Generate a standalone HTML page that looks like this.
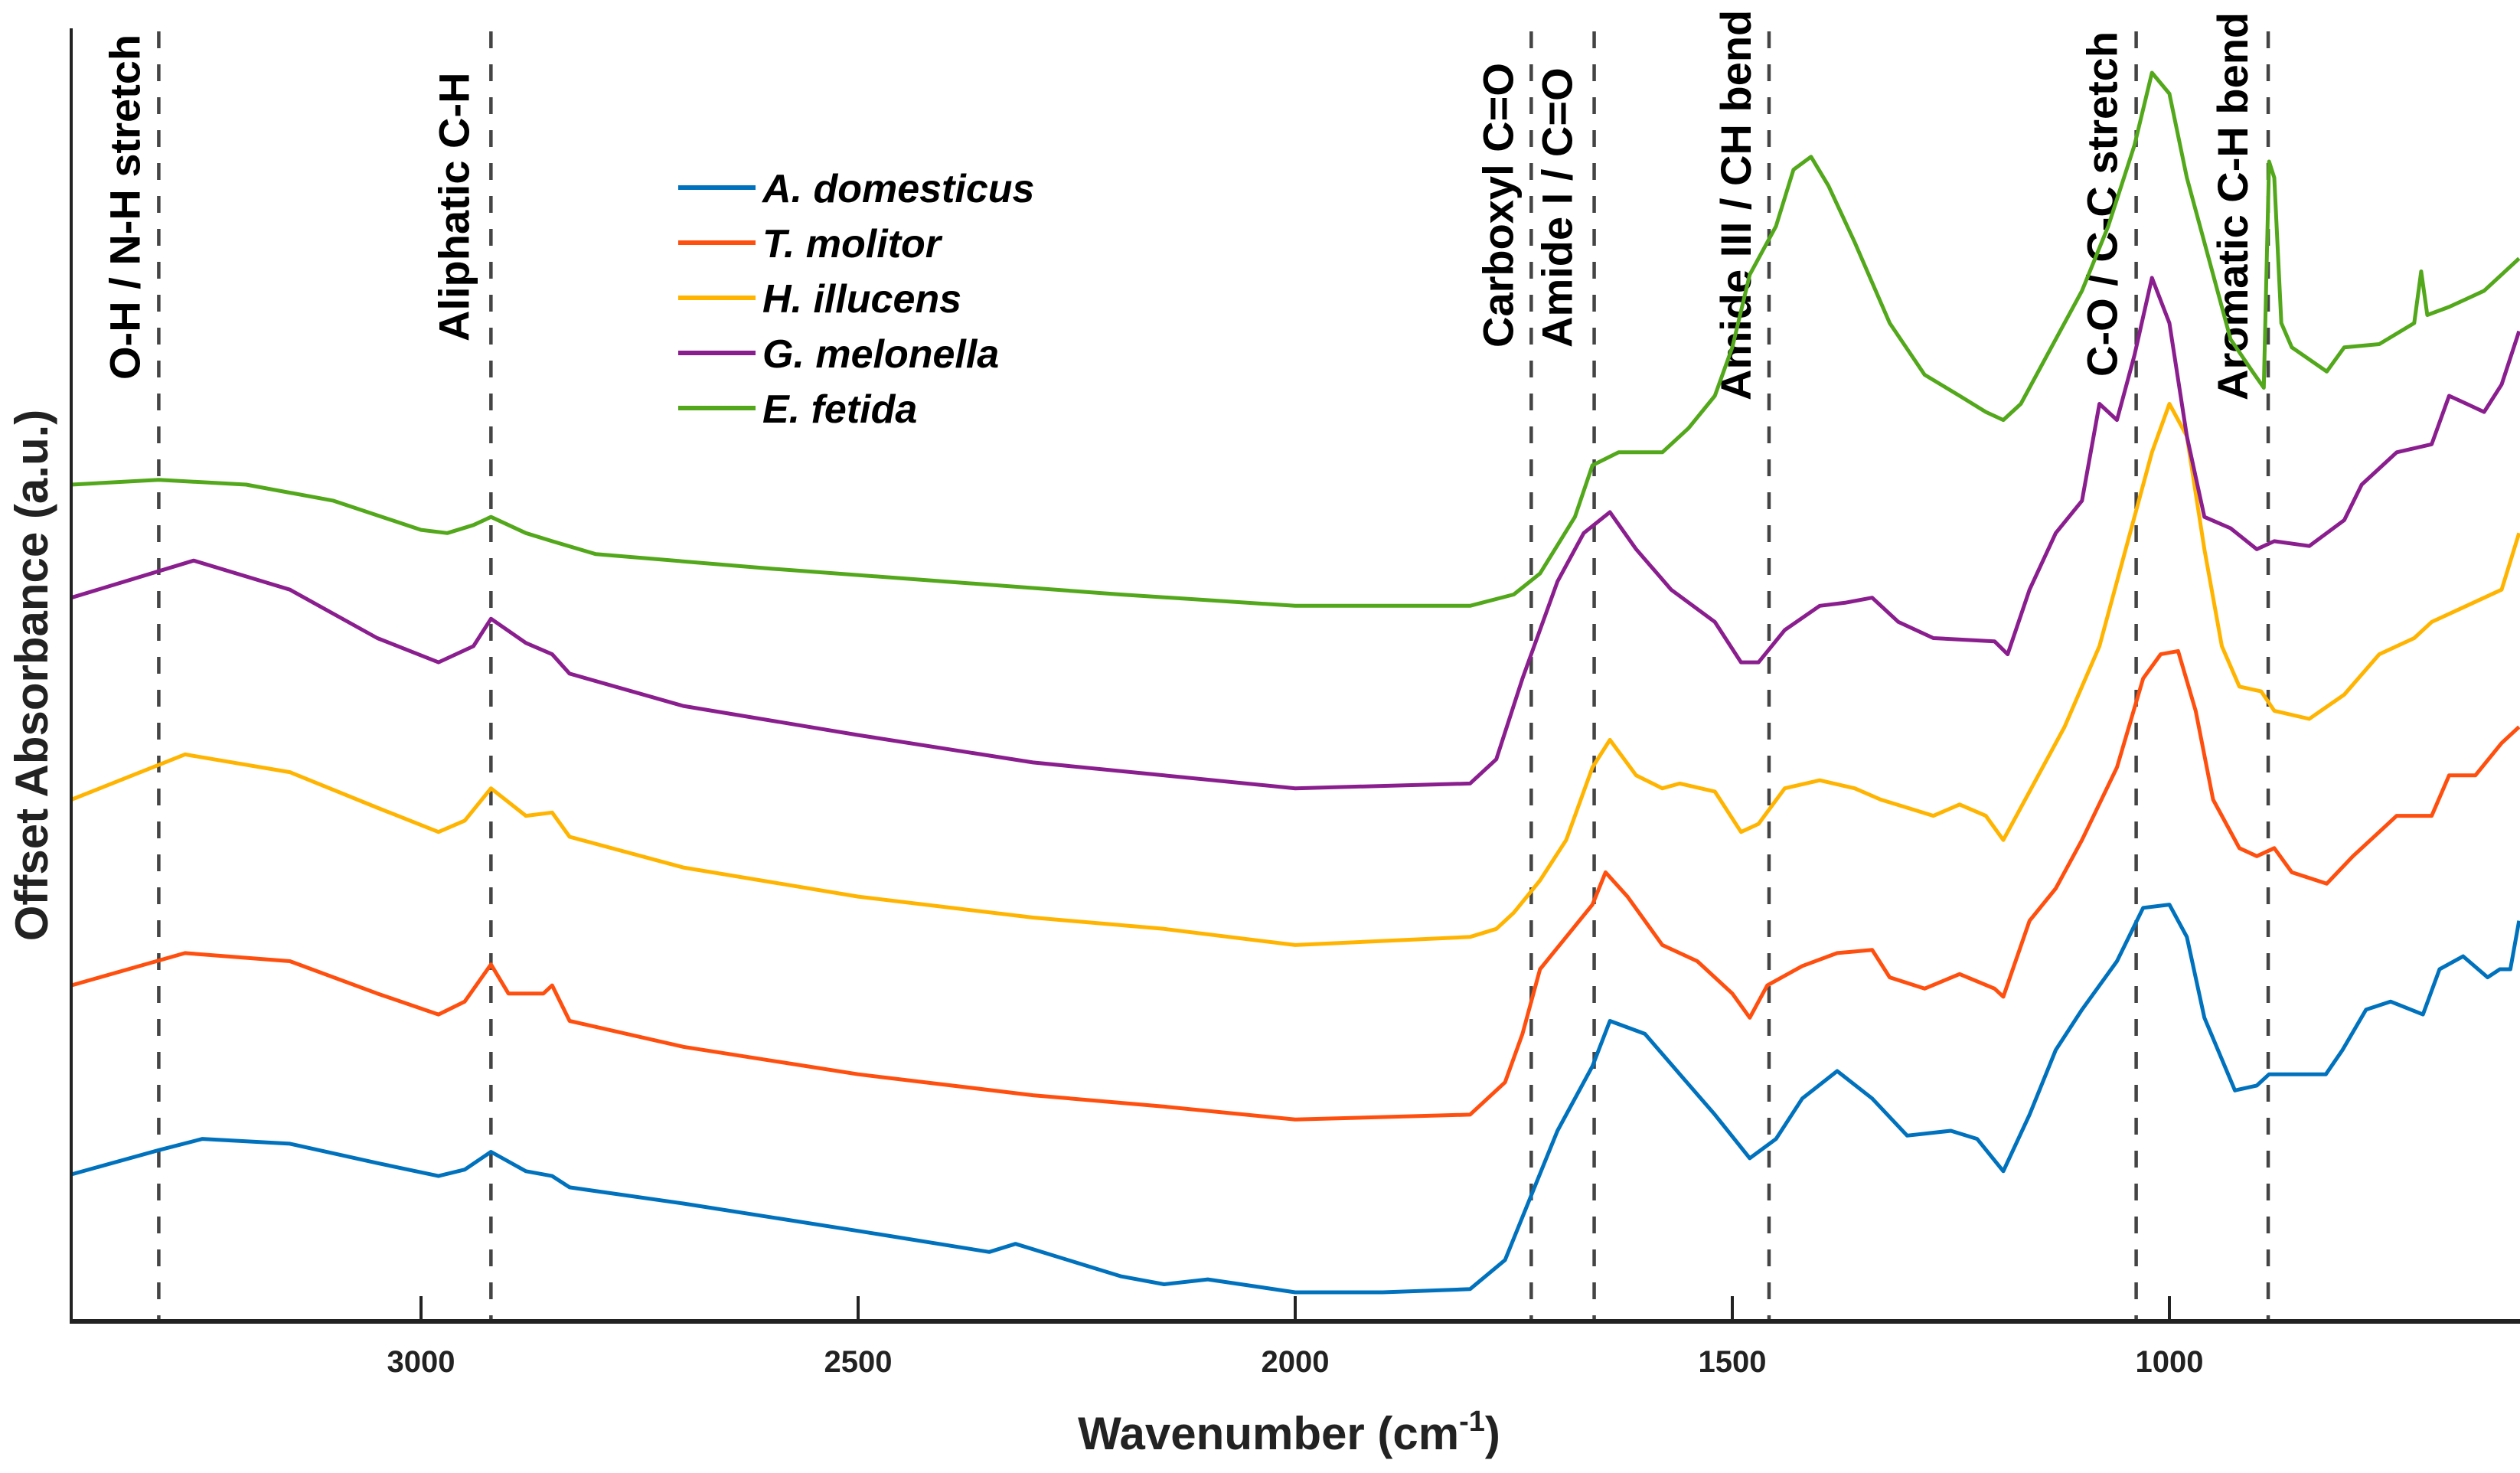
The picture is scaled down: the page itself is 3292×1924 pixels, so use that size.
<!DOCTYPE html>
<html><head><meta charset="utf-8">
<style>
html,body{margin:0;padding:0;background:#fff;}
svg{display:block;font-family:"Liberation Sans",Arial,sans-serif;}
</style></head>
<body>
<svg id="chart" width="3292" height="1924" viewBox="0 0 3292 1924">
<g id="annots"></g>
<g id="series"></g>
<g id="axes"></g>
<g id="legend"></g>
</svg>
<script>
// ---- data (plot units: offset absorbance) ----
const bandWavenumbers = [3300, 2920, 1730, 1658, 1458, 1038, 887];
const bandLabels = ["O-H / N-H stretch","Aliphatic C-H","Carboxyl C=O","Amide I / C=O","Amide III / CH bend","C-O / C-C stretch","Aromatic C-H bend"];
const xTicks = [3000, 2500, 2000, 1500, 1000];
const seriesNames = ["A. domesticus","T. molitor","H. illucens","G. melonella","E. fetida"];
const seriesColors = ["#0072BD","#FF4F0F","#FFB400","#8A1E8E","#52A81A"];

const wnA = [3400,3300,3250,3150,3050,2980,2950,2920,2880,2850,2830,2700,2500,2350,2320,2200,2150,2100,2000,1900,1800,1760,1730,1700,1660,1640,1600,1560,1520,1480,1450,1420,1380,1340,1300,1250,1220,1190,1160,1130,1100,1060,1030,1000,980,960,925,900,886,860,821,802,775,747,710,691,664,636,622,610,600];
const absA = [727,712,705,708,720,728,724,713,725,728,735,745,762,775,770,790,795,792,800,800,798,780,740,700,660,632,640,665,690,717,705,680,663,680,703,700,705,725,690,650,625,595,562,560,580,630,675,672,665,665,665,650,625,620,628,600,592,605,600,600,570];

const wnT = [3400,3270,3150,3050,2980,2950,2920,2900,2860,2850,2830,2700,2500,2300,2150,2000,1800,1760,1740,1720,1690,1660,1645,1620,1580,1540,1500,1480,1460,1420,1380,1340,1320,1280,1240,1200,1190,1160,1130,1100,1060,1030,1010,990,970,950,920,900,880,860,820,790,760,740,700,680,650,620,600];
const absT = [610,590,595,615,628,620,597,615,615,610,632,648,665,678,685,693,690,670,640,600,580,560,540,555,585,595,615,630,610,598,590,588,605,612,603,612,617,570,550,520,475,420,405,403,440,495,525,530,525,540,547,530,515,505,505,480,480,460,450];

const wnH = [3400,3270,3150,3050,2980,2950,2920,2880,2850,2830,2700,2500,2300,2150,2000,1800,1770,1750,1720,1690,1660,1640,1610,1580,1560,1520,1490,1470,1440,1400,1360,1330,1300,1270,1240,1210,1190,1160,1120,1080,1050,1020,1000,980,960,940,920,895,880,840,800,760,720,700,660,620,600];
const absH = [495,467,478,500,515,508,488,505,503,518,537,555,568,575,585,580,575,565,545,520,475,458,480,488,485,490,515,510,488,483,488,495,500,505,498,505,520,490,450,400,340,280,250,270,340,400,425,428,440,445,430,405,395,385,375,365,330];

const wnG = [3400,3260,3150,3050,2980,2940,2920,2880,2850,2830,2700,2500,2300,2150,2000,1800,1770,1740,1700,1670,1640,1610,1570,1520,1490,1470,1440,1400,1370,1340,1310,1270,1200,1185,1160,1130,1100,1080,1060,1040,1020,1000,980,960,930,900,880,840,800,780,760,740,700,680,660,640,620,600];
const absG = [370,347,365,395,410,400,383,398,405,417,437,455,472,480,488,485,470,420,360,330,317,340,365,385,410,410,390,375,373,370,385,395,397,405,365,330,310,250,260,220,172,200,270,320,327,340,335,338,322,300,290,280,275,245,250,255,238,205];

const wnE = [3400,3300,3200,3100,3000,2970,2940,2920,2880,2850,2800,2600,2400,2200,2000,1800,1750,1720,1680,1660,1630,1580,1550,1520,1500,1480,1450,1430,1410,1390,1360,1320,1280,1240,1210,1190,1170,1140,1100,1070,1040,1020,1000,980,950,930,905,892,886,880,872,860,820,800,760,720,712,705,680,660,640,620,600];
const absE = [300,297,300,310,328,330,325,320,330,335,343,352,360,368,375,375,368,355,320,288,280,280,265,245,215,170,140,105,97,115,150,200,232,245,255,260,250,220,180,140,90,45,58,110,170,210,230,240,100,110,200,215,230,215,213,200,168,195,190,185,180,170,160];

const allWn = [wnA, wnT, wnH, wnG, wnE];
const allAbs = [absA, absT, absH, absG, absE];

// ---- scales ----
const X0 = 93, X1 = 3292, Y0 = 1726, YTOP = 37;
function xScale(w){ return 550 + (3000 - w) * 1.142; }
function yScale(v){ return Y0 - (818 - v) * 2.11; }

const NS = "http://www.w3.org/2000/svg";
function mk(tag, attrs, parent){ const e=document.createElementNS(NS,tag); for(const k in attrs) e.setAttribute(k,attrs[k]); parent.appendChild(e); return e; }

// annotations
const labelBottoms = [496,446,454,454,523,492,523];
const labelOffsets = [25,29,24,29,24,25,27];
const an = document.getElementById('annots');
bandWavenumbers.forEach((w,i)=>{
  const x = xScale(w);
  const l = mk('line',{x1:x,y1:41,x2:x,y2:Y0,stroke:'#444','stroke-width':4.5,'stroke-dasharray':'22 21'},an);
  
  
  const t = mk('text',{x:0,y:0,transform:`translate(${x-labelOffsets[i]},${labelBottoms[i]}) rotate(-90)`,'font-size':56,'font-weight':'bold',fill:'#000'},an);
  t.textContent = bandLabels[i];
  
  
});

// series
const sg = document.getElementById('series');
allWn.forEach((wn,s)=>{
  const pts = wn.map((w,j)=>xScale(w).toFixed(1)+','+yScale(allAbs[s][j]).toFixed(1)).join(' ');
  const p = mk('polyline',{points:pts,fill:'none',stroke:seriesColors[s],'stroke-width':5,'stroke-linejoin':'round'},sg);
  
  
});

// axes
const ax = document.getElementById('axes');
mk('line',{x1:X0,y1:YTOP,x2:X0,y2:Y0+3,stroke:'#222','stroke-width':4},ax);
mk('line',{x1:X0-2,y1:Y0,x2:X1,y2:Y0,stroke:'#222','stroke-width':6},ax);
xTicks.forEach(w=>{
  const x = xScale(w);
  const tk = mk('line',{x1:x,y1:Y0,x2:x,y2:Y0-33,stroke:'#222','stroke-width':4},ax);
  
  
  const t = mk('text',{x:x,y:Y0+66,'text-anchor':'middle','font-size':40,'font-weight':'bold',fill:'#222'},ax);
  t.textContent = w;
  
  
});
const xt = mk('text',{x:1684,y:1893,'text-anchor':'middle','font-size':60,'font-weight':'bold',fill:'#222'},ax);
xt.innerHTML = 'Wavenumber (cm<tspan dy="-24" font-size="38">-1</tspan><tspan dy="24">)</tspan>';


const yt = mk('text',{x:0,y:0,transform:'translate(62,882) rotate(-90)','text-anchor':'middle','font-size':60,'font-weight':'bold',fill:'#222'},ax);
yt.textContent = 'Offset Absorbance (a.u.)';



// legend
const lg = document.getElementById('legend');
seriesNames.forEach((n,i)=>{
  const y = 245 + i*72;
  const g = mk('g',{},lg);
  
  
  mk('line',{x1:886,y1:y,x2:987,y2:y,stroke:seriesColors[i],'stroke-width':6},g);
  const t = mk('text',{x:996,y:y+19,'font-size':52,'font-weight':'bold','font-style':'italic',fill:'#000'},g);
  t.textContent = n;
});
</script>
</body></html>
